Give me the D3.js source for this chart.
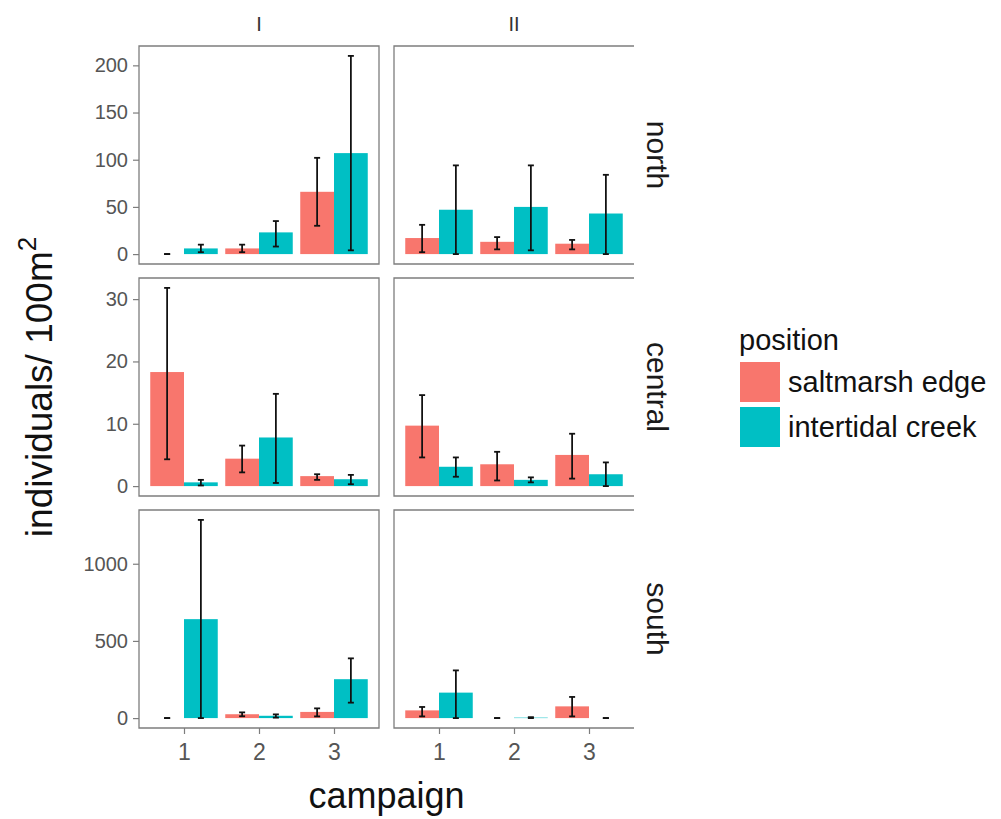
<!DOCTYPE html>
<html>
<head>
<meta charset="utf-8">
<script src="https://cdn.jsdelivr.net/npm/d3@7"></script>
<style>
  body { margin: 0; background: #fff; }
  text { font-family: "Liberation Sans", Arial, sans-serif; }
</style>
</head>
<body>
<svg id="canvas" width="1001" height="819"></svg>
<script>
// facets and groups
let periods = ['I', 'II'];
let regions = ['north', 'central', 'south'];
let campaigns = [1, 2, 3];
let positions = ['saltmarsh edge', 'intertidal creek'];

// values: period I campaigns 1-3, then period II campaigns 1-3
let northEdge = [0, 6, 66, 17, 13, 11];
let northEdgeLo = [0, 2, 30, 2, 5, 5];
let northEdgeHi = [0, 10, 102, 31, 18, 15];
let northCreek = [6, 23, 107, 47, 50, 43];
let northCreekLo = [2, 8, 4, 0, 4, 0];
let northCreekHi = [10, 35, 210, 94, 94, 84];

let centralEdge = [18.3, 4.4, 1.6, 9.7, 3.5, 5.0];
let centralEdgeLo = [4.3, 2.2, 1.0, 4.6, 0.9, 1.2];
let centralEdgeHi = [31.8, 6.5, 1.9, 14.6, 5.5, 8.4];
let centralCreek = [0.6, 7.8, 1.1, 3.1, 1.0, 1.9];
let centralCreekLo = [0.1, 0.5, 0.3, 1.5, 0.6, 0];
let centralCreekHi = [1.0, 14.8, 1.8, 4.6, 1.4, 3.8];

let southEdge = [0, 25, 40, 50, 0, 76];
let southEdgeLo = [0, 12, 11, 11, 0, 11];
let southEdgeHi = [0, 37, 63, 72, 0, 137];
let southCreek = [641, 15, 252, 165, 3, 0];
let southCreekLo = [0, 3, 100, 0, 0, 0];
let southCreekHi = [1284, 24, 387, 309, 6, 0];

// y ticks per row
let northTicks = [0, 50, 100, 150, 200];
let centralTicks = [0, 10, 20, 30];
let southTicks = [0, 500, 1000];

let colors = ['#F8766D', '#00BFC4'];

let series = {
	north: { mean: [northEdge, northCreek], lo: [northEdgeLo, northCreekLo], hi: [northEdgeHi, northCreekHi], ticks: northTicks },
	central: { mean: [centralEdge, centralCreek], lo: [centralEdgeLo, centralCreekLo], hi: [centralEdgeHi, centralCreekHi], ticks: centralTicks },
	south: { mean: [southEdge, southCreek], lo: [southEdgeLo, southCreekLo], hi: [southEdgeHi, southCreekHi], ticks: southTicks }
};

let canvas = d3.select('#canvas');

let panelLeft = 139;
let panelTop = 46;
let panelW = 240;
let panelH = 218;
let gapX = 15;
let gapY = 14;
let borderColor = '#7d7d7d';

// campaign axis: discrete with ggplot's 0.6 expansion
let xScale = d3.scaleLinear().domain([0.4, 3.6]).range([0, panelW]);
let barW = xScale(1.45) - xScale(1);
let capW = 6;

regions.forEach((region, ri) => {
	let s = series[region];
	let allHi = d3.max(s.hi.flat());
	let allLo = Math.min(0, d3.min(s.lo.flat()));
	let pad = (allHi - allLo) * 0.05;
	let yScale = d3.scaleLinear().domain([allLo - pad, allHi + pad]).range([panelH, 0]);

	periods.forEach((period, pi) => {
		let px = panelLeft + pi * (panelW + gapX);
		let py = panelTop + ri * (panelH + gapY);
		let g = canvas.append('g').attr('transform', 'translate(' + px + ',' + py + ')');

		let rows = [];
		campaigns.forEach((c, ci) => {
			positions.forEach((p, k) => {
				let idx = pi * 3 + ci;
				rows.push({
					campaign: c,
					pos: k,
					mean: s.mean[k][idx],
					lo: s.lo[k][idx],
					hi: s.hi[k][idx]
				});
			});
		});

		let cx = (d) => xScale(d.campaign) + (d.pos === 0 ? -barW / 2 : barW / 2);

		g.selectAll('rect.bar')
			.data(rows)
			.enter()
			.append('rect')
			.attr('class', 'bar')
			.attr('x', (d) => cx(d) - barW / 2)
			.attr('width', barW)
			.attr('y', (d) => yScale(d.mean))
			.attr('height', (d) => yScale(0) - yScale(d.mean))
			.attr('fill', (d) => colors[d.pos]);

		let err = g.selectAll('g.err').data(rows).enter().append('g').attr('class', 'err')
			.attr('stroke', '#111').attr('stroke-width', 1.8);
		err.append('line')
			.attr('x1', cx).attr('x2', cx)
			.attr('y1', (d) => yScale(d.lo)).attr('y2', (d) => yScale(d.hi));
		err.append('line')
			.attr('x1', (d) => cx(d) - capW / 2).attr('x2', (d) => cx(d) + capW / 2)
			.attr('y1', (d) => yScale(d.lo)).attr('y2', (d) => yScale(d.lo));
		err.append('line')
			.attr('x1', (d) => cx(d) - capW / 2).attr('x2', (d) => cx(d) + capW / 2)
			.attr('y1', (d) => yScale(d.hi)).attr('y2', (d) => yScale(d.hi));

		// panel border (right column is cut at the image edge)
		let border = pi === 0
			? 'M0,0H' + panelW + 'V' + panelH + 'H0Z'
			: 'M' + panelW + ',0H0V' + panelH + 'H' + panelW;
		g.append('path').attr('d', border).attr('fill', 'none')
			.attr('stroke', borderColor).attr('stroke-width', 1.3);

		// y axis on left column
		if (pi === 0) {
			let ya = g.append('g').call(d3.axisLeft(yScale).tickValues(s.ticks).tickFormat(d3.format('d')).tickSize(6).tickPadding(5));
			ya.select('.domain').remove();
			ya.selectAll('line').attr('stroke', borderColor).attr('stroke-width', 1.2);
			ya.selectAll('text').attr('fill', '#555').style('font-size', '20px')
				.style('font-family', '"Liberation Sans", Arial, sans-serif');
		}

		// x axis on bottom row
		if (ri === regions.length - 1) {
			let xa = g.append('g').attr('transform', 'translate(0,' + panelH + ')')
				.call(d3.axisBottom(xScale).tickValues(campaigns).tickFormat(d3.format('d')).tickSize(6).tickPadding(10));
			xa.select('.domain').remove();
			xa.selectAll('line').attr('stroke', borderColor).attr('stroke-width', 1.2);
			xa.selectAll('text').attr('fill', '#555').style('font-size', '23px')
				.style('font-family', '"Liberation Sans", Arial, sans-serif');
		}

		// column strip
		if (ri === 0) {
			canvas.append('text')
				.attr('x', px + panelW / 2).attr('y', 31)
				.attr('text-anchor', 'middle')
				.attr('fill', '#333').style('font-size', '20px')
				.text(period);
		}
	});

	// row strip
	let cy = panelTop + ri * (panelH + gapY) + panelH / 2;
	canvas.append('text')
		.attr('transform', 'translate(657,' + cy + ') rotate(90)')
		.attr('text-anchor', 'middle')
		.attr('dy', '0.35em')
		.attr('fill', '#1a1a1a').style('font-size', '30px')
		.text(region);
});

// axis titles
let plotMidY = panelTop + (3 * panelH + 2 * gapY) / 2;
let yTitle = canvas.append('text')
	.attr('transform', 'translate(52,' + plotMidY + ') rotate(-90)')
	.attr('text-anchor', 'middle')
	.attr('fill', '#111').style('font-size', '37px');
yTitle.append('tspan').text('individuals/ 100m');
yTitle.append('tspan').attr('dy', '-0.6em').style('font-size', '26px').text('2');

canvas.append('text')
	.attr('x', panelLeft + panelW + gapX / 2).attr('y', 808)
	.attr('text-anchor', 'middle')
	.attr('fill', '#111').style('font-size', '36px')
	.text('campaign');

// legend
let legend = canvas.append('g').attr('transform', 'translate(739,0)');
legend.append('text').attr('x', 0).attr('y', 350)
	.attr('fill', '#111').style('font-size', '29px').text('position');
let keys = legend.selectAll('g.key').data(positions).enter().append('g').attr('class', 'key')
	.attr('transform', (d, i) => 'translate(0,' + (362 + i * 45) + ')');
keys.append('rect').attr('x', 1).attr('y', 0).attr('width', 40).attr('height', 40)
	.attr('fill', (d, i) => colors[i]);
keys.append('text').attr('x', 49).attr('y', 20).attr('dy', '0.35em')
	.attr('fill', '#111').style('font-size', '29px').text((d) => d);
</script>
</body>
</html>
